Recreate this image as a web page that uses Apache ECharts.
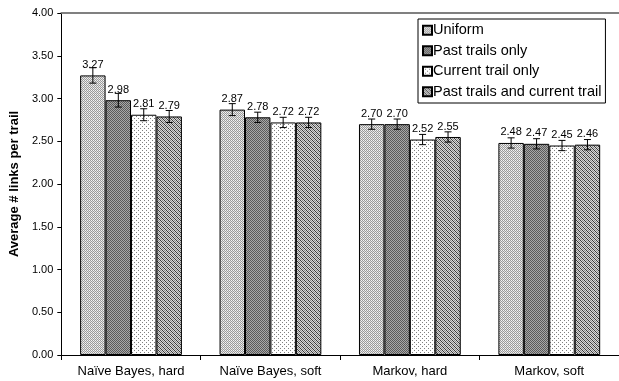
<!DOCTYPE html>
<html><head><meta charset="utf-8">
<script src="https://cdn.jsdelivr.net/npm/echarts@6/dist/echarts.min.js"></script>
<style>html,body{margin:0;padding:0;background:#fff}#c{width:619px;height:381px}</style>
</head><body><div id="c"></div>
<script>
const categories = ['Naïve Bayes, hard', 'Naïve Bayes, soft', 'Markov, hard', 'Markov, soft'];
const seriesNames = ['Uniform', 'Past trails only', 'Current trail only', 'Past trails and current trail'];
const uniform = [3.27, 2.87, 2.70, 2.48];
const pastTrails = [2.98, 2.78, 2.70, 2.47];
const currentTrail = [2.81, 2.72, 2.52, 2.45];
const pastAndCurrent = [2.79, 2.72, 2.55, 2.46];
const errUniform = [0.09, 0.07, 0.06, 0.06];
const errPast = [0.08, 0.06, 0.06, 0.06];
const errCurrent = [0.07, 0.06, 0.06, 0.06];
const errBoth = [0.07, 0.06, 0.06, 0.06];
const yTicks = [0, 0.5, 1, 1.5, 2, 2.5, 3, 3.5, 4];

function pattern(size, fn) {
  const c = document.createElement('canvas');
  c.width = size; c.height = size;
  const ctx = c.getContext('2d');
  for (let y = 0; y < size; y++) for (let x = 0; x < size; x++) {
    ctx.fillStyle = fn(x, y); ctx.fillRect(x, y, 1, 1);
  }
  return { image: c, repeat: 'repeat' };
}
const pats = [
  pattern(4, (x, y) => ((x + y) % 2 === 0) ? '#9a9a9a' : (x % 2 ? '#f4f4f4' : '#e0e0e0')),
  pattern(2, (x, y) => ((x + y) % 2 === 0) ? '#5a5a5a' : '#a8a8a8'),
  pattern(4, (x, y) => ((x + y) % 4 === 0 && y % 2 === 0) ? '#808080' : '#ffffff'),
  pattern(4, (x, y) => ((x + y) % 2 === 0) ? ((x % 4 < 2) === (y % 4 < 2) ? '#3a3a3a' : '#8a8a8a') : '#d8d8d8')
];

const values = [uniform, pastTrails, currentTrail, pastAndCurrent];
const errs = [errUniform, errPast, errCurrent, errBoth];
const gapRatio = 0.27;

const font = 'Liberation Sans, Arial, sans-serif';
const barSeries = values.map((v, i) => ({
  name: seriesNames[i], type: 'bar', data: v,
  barGap: '0%', barCategoryGap: (gapRatio * 100) + '%',
  itemStyle: { color: pats[i], borderColor: '#000', borderWidth: 1 },
  label: { show: true, position: 'top', distance: 5, fontSize: 11, color: '#000', fontFamily: font,
    formatter: p => p.value.toFixed(2) },
  z: 2
}));

const errData = [];
values.forEach((v, s) => v.forEach((val, c) => errData.push([c, s, val - errs[s][c], val + errs[s][c]])));

const errSeries = {
  type: 'custom', data: errData, z: 5, silent: true,
  renderItem: function (params, api) {
    const c = api.value(0), s = api.value(1);
    const lo = api.coord([c, api.value(2)]);
    const hi = api.coord([c, api.value(3)]);
    const catW = api.size([1, 0])[0];
    const barW = catW * (1 - gapRatio) / 4;
    const x = lo[0] + (s - 1.5) * barW;
    const hw = 3.5;
    const st = { stroke: '#000', lineWidth: 1 };
    return { type: 'group', children: [
      { type: 'line', shape: { x1: x, y1: lo[1], x2: x, y2: hi[1] }, style: st },
      { type: 'line', shape: { x1: x - hw, y1: lo[1], x2: x + hw, y2: lo[1] }, style: st },
      { type: 'line', shape: { x1: x - hw, y1: hi[1], x2: x + hw, y2: hi[1] }, style: st }
    ]};
  }
};

const chart = echarts.init(document.getElementById('c'), null, { renderer: 'canvas' });
chart.setOption({
  animation: false,
  textStyle: { fontFamily: font },
  grid: { left: 56, right: 0, top: 13, bottom: 26, containLabel: false },
  legend: {
    data: seriesNames, orient: 'vertical', left: 418, top: 19,
    padding: [3, 4, 3, 4], itemGap: 4, itemWidth: 9, itemHeight: 9,
    borderColor: '#000', borderWidth: 1, backgroundColor: '#fff',
    icon: 'rect', textStyle: { fontSize: 14.5, color: '#000', padding: [0, 0, 0, -4], lineHeight: 16.5 }
  },
  xAxis: [{
    type: 'category', data: categories,
    axisLine: { lineStyle: { color: '#000', width: 1 } },
    axisTick: { show: true, length: 5, lineStyle: { color: '#000' } },
    axisLabel: { fontSize: 13, color: '#000', margin: 10, fontFamily: font }
  }, {
    type: 'category', data: categories, position: 'top',
    axisLine: { lineStyle: { color: '#808080', width: 2 } },
    axisTick: { show: false }, axisLabel: { show: false }
  }],
  yAxis: {
    type: 'value', min: yTicks[0], max: yTicks[yTicks.length - 1], interval: 0.5,
    name: 'Average # links per trail', nameLocation: 'middle', nameGap: 9,
    nameTextStyle: { fontSize: 13, fontWeight: 'bold', color: '#000', fontFamily: font },
    axisLine: { show: true, lineStyle: { color: '#000' } },
    axisTick: { show: true, length: 4, lineStyle: { color: '#000' } },
    splitLine: { show: false },
    axisLabel: { fontSize: 11, color: '#000', margin: 8, formatter: v => v.toFixed(2), fontFamily: font }
  },
  series: [...barSeries, errSeries]
});
</script></body></html>
